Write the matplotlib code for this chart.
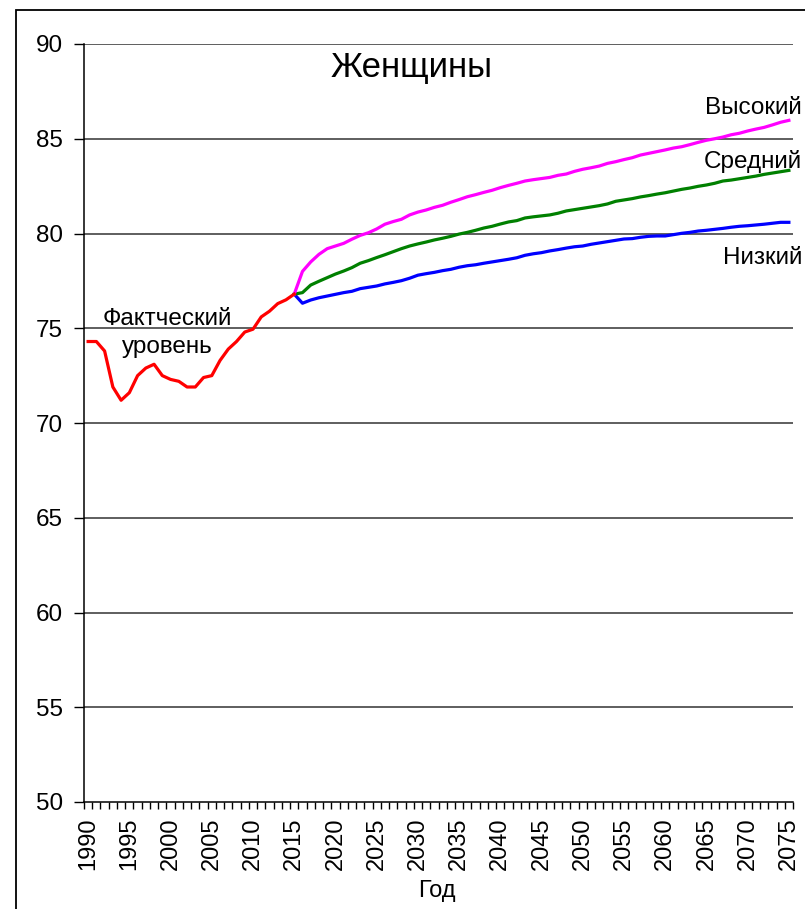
import matplotlib
matplotlib.use("Agg")
import matplotlib.pyplot as plt
from matplotlib.patches import Rectangle
import numpy as np

plt.rcParams['font.family'] = ['Liberation Sans', 'DejaVu Sans']

# ---------------- data ----------------
years = list(range(1990, 2076))
actual_years = list(range(1990, 2016))
actual = [74.3, 74.3, 73.8, 71.9, 71.2, 71.6, 72.5, 72.9, 73.1, 72.5,
          72.3, 72.2, 71.9, 71.9, 72.4, 72.5, 73.3, 73.9, 74.3, 74.8,
          74.95, 75.6, 75.9, 76.3, 76.5, 76.8]
proj_years = list(range(2015, 2076))
high = [76.8, 78.0, 78.5, 78.9, 79.2, 79.34, 79.48, 79.7, 79.9, 80.04,
        80.24, 80.49, 80.63, 80.75, 80.98, 81.13, 81.24, 81.38, 81.49, 81.65,
        81.79, 81.94, 82.05, 82.17, 82.28, 82.42, 82.54, 82.65, 82.77, 82.84,
        82.9, 82.96, 83.07, 83.14, 83.28, 83.39, 83.47, 83.56, 83.7, 83.79,
        83.9, 84.0, 84.14, 84.23, 84.32, 84.41, 84.51, 84.58, 84.69, 84.81,
        84.92, 85.0, 85.09, 85.21, 85.29, 85.41, 85.51, 85.6, 85.73, 85.87,
        85.97]
medium = [76.8, 76.88, 77.28, 77.48, 77.67, 77.86, 78.02, 78.2, 78.43, 78.57,
          78.73, 78.88, 79.04, 79.2, 79.34, 79.45, 79.55, 79.66, 79.75, 79.85,
          79.97, 80.06, 80.17, 80.29, 80.38, 80.5, 80.61, 80.68, 80.82, 80.88,
          80.93, 80.98, 81.07, 81.19, 81.26, 81.33, 81.4, 81.47, 81.56, 81.7,
          81.77, 81.84, 81.93, 82.0, 82.08, 82.15, 82.24, 82.33, 82.4, 82.49,
          82.56, 82.65, 82.77, 82.82, 82.89, 82.96, 83.03, 83.12, 83.19, 83.26,
          83.33]
low = [76.8, 76.32, 76.49, 76.61, 76.7, 76.79, 76.88, 76.95, 77.09, 77.16,
       77.23, 77.34, 77.42, 77.51, 77.64, 77.8, 77.88, 77.95, 78.04, 78.11,
       78.22, 78.3, 78.35, 78.43, 78.5, 78.57, 78.64, 78.72, 78.85, 78.93,
       78.99, 79.08, 79.15, 79.23, 79.3, 79.34, 79.43, 79.5, 79.57, 79.64,
       79.71, 79.73, 79.8, 79.85, 79.87, 79.87, 79.94, 80.01, 80.06, 80.13,
       80.17, 80.22, 80.27, 80.33, 80.38, 80.41, 80.45, 80.49, 80.54, 80.59,
       80.59]
y_ticks = [50, 55, 60, 65, 70, 75, 80, 85, 90]
x_label_years = list(range(1990, 2076, 5))

title = "Женщины"
x_title = "Год"
label_high = "Высокий"
label_med = "Средний"
label_low = "Низкий"
label_actual_1 = "Фактческий"
label_actual_2 = "уровень"

# ---------------- figure ----------------
W, H = 805, 909
fig = plt.figure(figsize=(W / 100, H / 100), dpi=100)
ax = fig.add_axes([84 / W, 1 - 802 / H, (793 - 84) / W, (802 - 44) / H])

def idx(ys):
    return [y - years[0] for y in ys]

ax.plot(idx(proj_years), low, color='#0000FF', lw=2.3, solid_joinstyle='round', zorder=3)
ax.plot(idx(proj_years), medium, color='#008000', lw=2.3, solid_joinstyle='round', zorder=3)
ax.plot(idx(proj_years), high, color='#FF00FF', lw=2.3, solid_joinstyle='round', zorder=3)
ax.plot(idx(actual_years), actual, color='#FF0000', lw=2.3, solid_joinstyle='round', zorder=4)

ax.set_xlim(-0.5, len(years) - 0.5)
ax.set_ylim(50, 90)

# y axis
ax.set_yticks(y_ticks)
ax.set_yticklabels([str(v) for v in y_ticks], fontsize=17.5)
ax.tick_params(axis='y', direction='out', length=7, width=1, pad=8, colors='black')
for v in y_ticks[1:]:
    ax.axhline(v, color='#333333', lw=1.1, zorder=1)

# x axis: tick marks between categories, labels every 5 years
ax.set_xticks(np.arange(-0.5, len(years), 1.0))
ax.set_xticklabels([])
ax.tick_params(axis='x', which='major', direction='out', length=5, width=1)
ax.set_xticks(idx(x_label_years), minor=True)
ax.set_xticklabels([str(y) for y in x_label_years], minor=True, rotation=90, fontsize=17)
ax.tick_params(axis='x', which='minor', length=0, pad=11)

for s in ['top', 'right']:
    ax.spines[s].set_visible(False)
for s in ['left', 'bottom']:
    ax.spines[s].set_color('black')
    ax.spines[s].set_linewidth(1.1)

# texts
def ft(x, y, s, **kw):
    fig.text(x / W, 1 - y / H, s, **kw)

ft(412, 77, title, fontsize=25, ha='center', va='baseline')
ft(437, 897, x_title, fontsize=17, ha='center', va='baseline')
ft(802, 114, label_high, fontsize=17.5, ha='right', va='baseline')
ft(802, 168, label_med, fontsize=17.5, ha='right', va='baseline')
ft(802, 264, label_low, fontsize=17.5, ha='right', va='baseline')
ft(167, 325, label_actual_1, fontsize=17.5, ha='center', va='baseline')
ft(167, 353, label_actual_2, fontsize=17.5, ha='center', va='baseline')

# outer frame
fig.patches.append(Rectangle((16 / W, -0.1), 2.0, 1 - 10 / H + 0.1,
                             transform=fig.transFigure, fill=False,
                             edgecolor='black', lw=1.3))

fig.savefig('out.png', dpi=100)
